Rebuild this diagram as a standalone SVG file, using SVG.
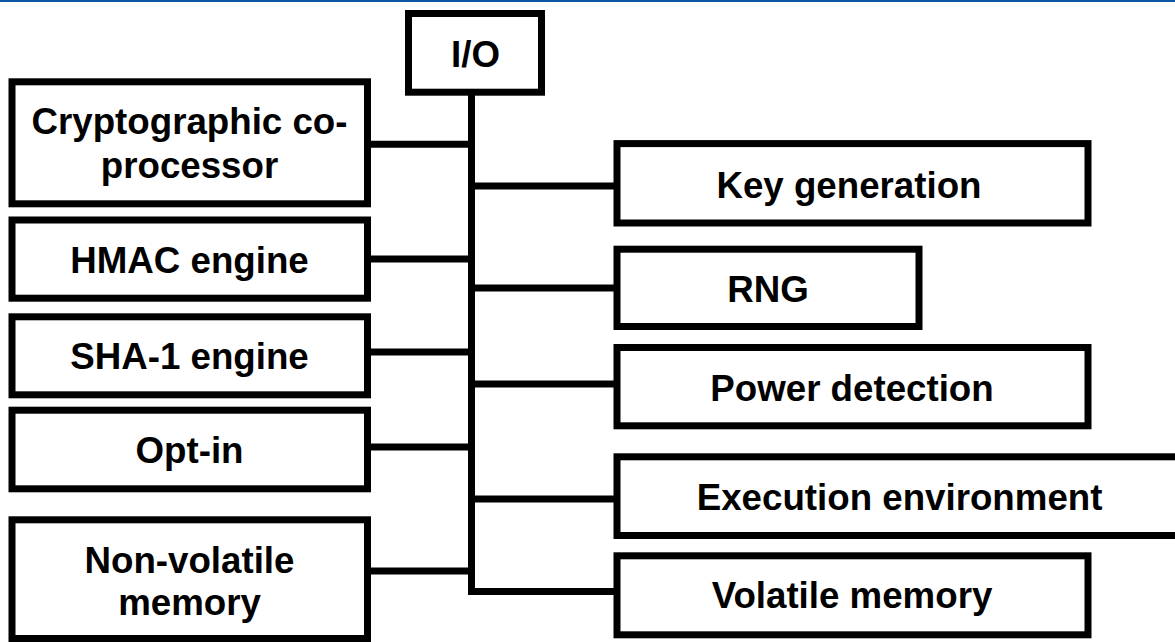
<svg xmlns="http://www.w3.org/2000/svg" width="1175" height="642" viewBox="0 0 1175 642">
<style>
.box{fill:#fff;stroke:#000;stroke-width:7}
.t{font-family:"Liberation Sans",Arial,sans-serif;font-weight:bold;font-size:36.7px;fill:#000;text-anchor:middle}
.c{fill:none;stroke:#000;stroke-width:7;stroke-linejoin:miter;stroke-linecap:butt}
</style>
<rect x="0" y="0" width="1175" height="642" fill="#fff"/>
<rect x="0" y="0" width="1175" height="2" fill="#0b57a4"/>
<g id="connectors">
<path class="c" d="M471.5,95 V591.5 H617"/>
<path class="c" d="M371,144.2 H471.5 M371,259 H471.5 M371,352 H471.5 M371,447 H471.5 M371,571 H471.5"/>
<path class="c" d="M471.5,186 H617 M471.5,288 H617 M471.5,384 H617 M471.5,499 H617"/>
</g>
<g id="io"><rect class="box" x="408.5" y="13.5" width="133" height="78.7"/><text class="t" x="475.5" y="66.5">I/O</text></g>
<g id="crypto"><rect class="box" x="12" y="81.8" width="355.5" height="122"/><text class="t" x="189.5" y="134">Cryptographic co-</text><text class="t" x="189.5" y="178.3">processor</text></g>
<g id="hmac"><rect class="box" x="12" y="220" width="355.5" height="78.2"/><text class="t" x="189.5" y="273.3">HMAC engine</text></g>
<g id="sha1"><rect class="box" x="12" y="316.8" width="355.5" height="78"/><text class="t" x="189.5" y="369">SHA-1 engine</text></g>
<g id="optin"><rect class="box" x="12" y="410.2" width="355.5" height="78.6"/><text class="t" x="189.5" y="462.7">Opt-in</text></g>
<g id="nvmem"><rect class="box" x="12" y="519.8" width="355.5" height="118.7"/><text class="t" x="189.5" y="572.7">Non-volatile</text><text class="t" x="189.5" y="615">memory</text></g>
<g id="keygen"><rect class="box" x="617" y="143.6" width="471" height="79.4"/><text class="t" x="849" y="198.3">Key generation</text></g>
<g id="rng"><rect class="box" x="617" y="249.2" width="302" height="77.3"/><text class="t" x="768" y="301.7">RNG</text></g>
<g id="power"><rect class="box" x="617" y="347.5" width="471" height="78.3"/><text class="t" x="852" y="400.7">Power detection</text></g>
<g id="exec"><rect class="box" x="617" y="456.8" width="565" height="78.7"/><text class="t" x="899.6" y="509.5">Execution environment</text></g>
<g id="volatile"><rect class="box" x="617" y="555.8" width="471" height="79"/><text class="t" x="852" y="608.3">Volatile memory</text></g>
</svg>
